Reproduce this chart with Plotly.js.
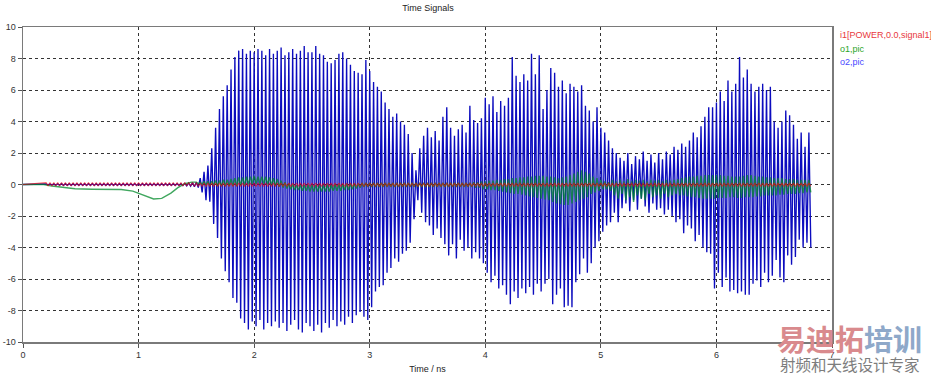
<!DOCTYPE html>
<html>
<head>
<meta charset="utf-8">
<script src="https://cdn.plot.ly/plotly-3.0.1.min.js"></script>
<style>html,body{margin:0;padding:0;background:#fff;}#chart{width:931px;height:376px;}</style>
</head>
<body>
<div id="chart"></div>
<script>
// ---- data ----
const chartTitle = 'Time Signals';
const xTitle = 'Time / ns';
const seriesNames = ['i1[POWER,0.0,signal1]', 'o1,pic', 'o2,pic'];
const xTicks = [0, 1, 2, 3, 4, 5, 6, 7];
const yTicks = [-10, -8, -6, -4, -2, 0, 2, 4, 6, 8, 10];

// sampling of the oscillation: one cycle per entry, cycle 0 at cycleStart (ns)
const cycleStart = 0.2;
const cyclePeriod = 1 / 30;

// o2,pic : per-cycle peak / trough. 39 small cycles before 1.5 ns, then 160 cycles
const o2EarlyMax = [0.03,0.03,0.04,0.04,0.05,0.05,0.05,0.05,0.05,0.05,0.05,0.05,0.05,0.05,0.05,0.05,0.05,0.05,0.05,0.05,
 0.05,0.05,0.05,0.05,0.05,0.05,0.05,0.05,0.05,0.05,0.05,0.05,0.05,0.05,0.05,0.06,0.08,0.1,0.12];
const o2EarlyMin = [-0.03,-0.03,-0.04,-0.04,-0.05,-0.05,-0.05,-0.05,-0.05,-0.05,-0.05,-0.05,-0.05,-0.05,-0.05,-0.05,-0.05,-0.05,-0.05,-0.05,
 -0.05,-0.05,-0.05,-0.05,-0.05,-0.05,-0.05,-0.05,-0.05,-0.05,-0.05,-0.05,-0.05,-0.05,-0.05,-0.06,-0.08,-0.1,-0.14];
const o2Max = [
 0.15,0.4,0.8,1.2,2.3,3.6,
 4.8,5.6,6.3,7.3,8.1,8.5,
 8.6,8.3,8.5,8.4,8.6,8.5,
 8.2,8.6,8.3,8.5,8.7,8.2,
 8.4,8.6,8.3,8.5,8.8,8.4,
 8.4,8.8,8.3,8.2,7.8,7.7,
 7.9,8.3,8.4,8.0,7.6,7.2,
 7.1,7.0,7.9,7.2,6.5,6.2,
 5.9,5.2,4.8,4.3,4.5,4.0,
 3.8,3.2,2.0,0.9,2.3,3.1,
 3.6,3.0,3.4,2.8,4.3,4.9,
 3.6,3.1,3.5,3.8,3.3,5.0,
 4.1,3.9,4.2,5.5,5.1,5.6,
 4.6,5.3,5.0,5.5,8.1,6.9,
 6.5,7.0,6.6,8.3,7.0,8.2,
 4.8,6.0,7.4,7.1,6.2,6.6,
 5.8,6.4,6.2,5.9,6.3,5.0,
 4.7,4.0,4.9,3.6,3.3,2.8,
 2.3,2.0,1.7,1.5,2.0,1.3,
 1.8,1.6,2.1,1.5,1.9,1.4,
 2.0,1.6,2.1,1.9,2.4,2.2,
 2.6,2.4,2.8,3.3,3.0,3.7,
 4.3,4.9,4.9,5.2,5.9,5.3,
 6.6,5.9,6.4,8.1,6.8,7.3,
 6.4,5.9,6.2,6.4,6.0,6.2,
 4.0,3.6,4.0,4.7,4.4,3.8,
 2.9,3.3,2.4,3.3];
const o2Min = [
 -0.2,-0.5,-1.0,-1.1,-2.5,-3.4,
 -4.7,-5.5,-6.2,-7.2,-7.5,-8.5,
 -8.8,-9.2,-8.7,-9.0,-8.6,-9.2,
 -8.8,-9.0,-8.7,-9.1,-8.8,-9.3,
 -8.9,-8.6,-9.2,-9.4,-8.8,-9.0,
 -9.3,-8.9,-9.4,-8.8,-9.1,-8.6,
 -9.0,-8.7,-8.9,-8.4,-8.8,-8.3,
 -8.1,-8.4,-8.6,-7.8,-6.8,-6.5,
 -6.4,-5.6,-5.3,-4.7,-4.9,-4.4,
 -4.2,-3.7,-2.2,-1.0,-1.8,-2.4,
 -2.6,-3.2,-2.8,-3.4,-3.8,-4.5,
 -3.8,-4.7,-3.5,-4.2,-4.0,-4.7,
 -4.3,-4.7,-5.0,-5.6,-6.2,-5.8,
 -6.6,-6.4,-7.0,-7.6,-6.8,-7.2,
 -6.6,-6.9,-6.5,-7.0,-6.3,-6.8,
 -6.3,-6.0,-7.6,-7.0,-6.6,-7.8,
 -7.7,-7.8,-6.2,-5.7,-4.7,-5.6,
 -5.0,-4.0,-3.6,-3.0,-2.6,-2.4,
 -1.8,-2.4,-1.5,-1.2,-1.7,-1.0,
 -1.6,-0.9,-1.4,-1.8,-1.2,-1.6,
 -1.5,-1.9,-1.6,-2.0,-2.4,-2.2,
 -3.1,-2.6,-2.8,-3.6,-3.2,-4.0,
 -4.3,-4.4,-6.6,-5.6,-6.5,-5.9,
 -6.8,-6.7,-6.9,-6.8,-7.0,-7.0,
 -6.3,-6.1,-6.5,-5.6,-6.2,-5.8,
 -4.8,-5.9,-6.2,-4.5,-5.1,-4.6,
 -3.5,-4.0,-3.7,-4.0];

// o1,pic : slow part (time, value) then per-cycle peak / trough from 1.5 ns
const o1SlowT = [0,0.18,0.25,0.35,0.45,0.6,0.75,0.85,0.95,1.05,1.13,1.2,1.28,1.34,1.4,1.46];
const o1SlowV = [0,0,-0.1,-0.2,-0.27,-0.3,-0.3,-0.32,-0.42,-0.7,-0.92,-0.88,-0.55,-0.2,0.05,0.15];
const o1Max = [
 0.15,0.15,0.2,0.2,0.2,0.25,
 0.25,0.3,0.3,0.35,0.4,0.45,
 0.45,0.5,0.5,0.55,0.5,0.5,
 0.5,0.45,0.4,0.35,0.25,0.15,
 0.05,0.0,-0.05,-0.05,-0.05,-0.05,
 -0.05,-0.05,-0.05,-0.05,0.0,-0.05,
 0.0,0.0,0.0,0.05,0.05,0.05,
 0.05,0.1,0.1,0.1,0.1,0.1,
 0.1,0.1,0.1,0.1,0.1,0.1,
 0.1,0.1,0.1,0.1,0.1,0.1,
 0.1,0.1,0.1,0.1,0.1,0.1,
 0.1,0.1,0.1,0.1,0.1,0.1,
 0.15,0.15,0.2,0.2,0.25,0.25,
 0.3,0.3,0.35,0.35,0.4,0.4,
 0.45,0.45,0.5,0.5,0.55,0.55,
 0.55,0.5,0.5,0.45,0.4,0.45,
 0.5,0.6,0.7,0.8,0.9,0.8,
 0.7,0.5,0.4,0.3,0.2,0.15,
 0.3,0.2,0.3,0.2,0.35,0.2,
 0.3,0.25,0.3,0.2,0.3,0.25,
 0.3,0.2,0.3,0.25,0.3,0.35,
 0.4,0.45,0.5,0.5,0.55,0.55,
 0.6,0.6,0.6,0.6,0.6,0.55,
 0.55,0.5,0.5,0.5,0.55,0.6,
 0.6,0.55,0.5,0.5,0.45,0.45,
 0.4,0.4,0.4,0.35,0.35,0.35,
 0.3,0.3,0.3,0.3];
const o1Min = [
 0.05,0.0,-0.05,-0.05,-0.05,-0.1,
 -0.1,-0.1,-0.1,-0.1,-0.1,-0.05,
 -0.05,0.0,0.05,0.05,0.05,0.05,
 0.0,-0.05,-0.1,-0.15,-0.2,-0.25,
 -0.3,-0.35,-0.35,-0.4,-0.4,-0.45,
 -0.45,-0.45,-0.45,-0.45,-0.45,-0.4,
 -0.4,-0.4,-0.35,-0.35,-0.3,-0.25,
 -0.2,-0.15,-0.15,-0.15,-0.15,-0.15,
 -0.15,-0.15,-0.15,-0.15,-0.15,-0.15,
 -0.15,-0.15,-0.15,-0.15,-0.15,-0.15,
 -0.15,-0.15,-0.15,-0.15,-0.15,-0.15,
 -0.15,-0.15,-0.15,-0.15,-0.15,-0.15,
 -0.2,-0.2,-0.3,-0.3,-0.35,-0.35,
 -0.4,-0.45,-0.5,-0.55,-0.6,-0.6,
 -0.65,-0.7,-0.75,-0.8,-0.85,-0.9,
 -0.95,-1.0,-1.1,-1.2,-1.25,-1.3,
 -1.3,-1.2,-1.1,-1.0,-0.9,-0.8,
 -0.6,-0.5,-0.4,-0.3,-0.3,-0.4,
 -0.7,-0.9,-0.6,-1.0,-0.8,-1.1,
 -0.7,-0.9,-1.0,-0.6,-0.8,-0.7,
 -0.9,-0.6,-0.8,-0.7,-0.6,-0.7,
 -0.7,-0.75,-0.8,-0.8,-0.85,-0.9,
 -0.9,-0.9,-0.9,-0.85,-0.85,-0.85,
 -0.8,-0.8,-0.85,-0.85,-0.8,-0.8,
 -0.8,-0.75,-0.75,-0.7,-0.7,-0.7,
 -0.7,-0.65,-0.65,-0.6,-0.6,-0.6,
 -0.55,-0.55,-0.5,-0.5];

// i1 : small excitation oscillation, peak / trough per segment of cycles
const i1SegEndCycle = [39, 199];
const i1SegMax = [0.12, 0.1];
const i1SegMin = [-0.1, -0.12];

// ---- build traces ----
function cycleSeries(maxArr, minArr, firstCycle) {
  const x = [], y = [];
  for (let k = 0; k < maxArr.length; k++) {
    const c = firstCycle + k;
    x.push(cycleStart + c * cyclePeriod); y.push(maxArr[k]);
    x.push(cycleStart + (c + 0.5) * cyclePeriod); y.push(minArr[k]);
  }
  return {x, y};
}
const o2All = cycleSeries(o2EarlyMax.concat(o2Max), o2EarlyMin.concat(o2Min), 0);
const o2x = [0].concat(o2All.x), o2y = [0].concat(o2All.y);

const o1Osc = cycleSeries(o1Max, o1Min, o2EarlyMax.length);
const o1x = o1SlowT.concat(o1Osc.x), o1y = o1SlowV.concat(o1Osc.y);

const i1Mx = [], i1Mn = [];
let seg = 0;
for (let c = 0; c < i1SegEndCycle[i1SegEndCycle.length - 1]; c++) {
  while (c >= i1SegEndCycle[seg]) seg++;
  i1Mx.push(i1SegMax[seg]); i1Mn.push(i1SegMin[seg]);
}
const i1 = cycleSeries(i1Mx, i1Mn, 0);
const i1x = [0].concat(i1.x), i1y = [0].concat(i1.y);

const traces = [
  {x: o2x, y: o2y, type: 'scatter', mode: 'lines', name: seriesNames[2],
   line: {color: '#0c0cbe', width: 1.35}, hoverinfo: 'skip'},
  {x: o1x, y: o1y, type: 'scatter', mode: 'lines', name: seriesNames[1],
   line: {color: '#008a2a', width: 1.4}, opacity: 0.75, hoverinfo: 'skip'},
  {x: i1x, y: i1y, type: 'scatter', mode: 'lines', name: seriesNames[0],
   line: {color: '#ff0000', width: 1.1}, opacity: 0.6, hoverinfo: 'skip'}
];

const font = {family: 'Liberation Sans, Arial, sans-serif', size: 9, color: '#222'};
const cjk = 'Noto Sans CJK SC, sans-serif';

const layout = {
  width: 931, height: 376,
  margin: {l: 23, r: 99, t: 27, b: 34},
  paper_bgcolor: '#fff', plot_bgcolor: '#fff',
  showlegend: false,
  font: font,
  title: {text: chartTitle, font: {family: font.family, size: 9, color: '#222'},
          x: 0.4597, xanchor: 'center', y: 0.978, yanchor: 'middle'},
  xaxis: {range: [0, 7], tickvals: xTicks, ticktext: xTicks.map(String),
          ticks: 'outside', ticklen: 4, tickcolor: '#555',
          showgrid: true, gridcolor: '#333', griddash: 'dot', gridwidth: 1,
          zeroline: false, showline: true, mirror: true, linecolor: '#7a7a7a', linewidth: 1.5,
          title: {text: xTitle, font: {family: font.family, size: 9, color: '#222'}, standoff: 6},
          tickfont: {family: font.family, size: 9, color: '#333'}, fixedrange: true},
  yaxis: {range: [-10, 10], tickvals: yTicks, ticktext: yTicks.map(String),
          ticks: 'outside', ticklen: 4, tickcolor: '#555',
          showgrid: true, gridcolor: '#333', griddash: 'dot', gridwidth: 1,
          zeroline: false, showline: true, mirror: true, linecolor: '#7a7a7a', linewidth: 1.5,
          tickfont: {family: font.family, size: 9, color: '#333'}, fixedrange: true},
  annotations: [
    {xref: 'paper', yref: 'paper', x: 1.0074, y: 0.975, xanchor: 'left', yanchor: 'middle',
     text: seriesNames[0], showarrow: false, font: {family: font.family, size: 9, color: '#e8383c'}},
    {xref: 'paper', yref: 'paper', x: 1.0074, y: 0.930, xanchor: 'left', yanchor: 'middle',
     text: seriesNames[1], showarrow: false, font: {family: font.family, size: 9, color: '#2aa52a'}},
    {xref: 'paper', yref: 'paper', x: 1.0074, y: 0.889, xanchor: 'left', yanchor: 'middle',
     text: seriesNames[2], showarrow: false, font: {family: font.family, size: 9, color: '#4848ff'}},
    {xref: 'paper', yref: 'paper', x: 1.022, y: 0.014, xanchor: 'center', yanchor: 'middle',
     text: '<b><span style="color:#d98a8d">易迪拓</span><span style="color:#8ea8c9">培训</span></b>',
     showarrow: false, font: {family: cjk, size: 29}},
    {xref: 'paper', yref: 'paper', x: 1.022, y: -0.069, xanchor: 'center', yanchor: 'middle',
     text: '射频和天线设计专家', showarrow: false, font: {family: cjk, size: 15.5, color: '#7d7d7d'}}
  ]
};

Plotly.newPlot('chart', traces, layout, {staticPlot: true, displayModeBar: false});
</script>
</body>
</html>
